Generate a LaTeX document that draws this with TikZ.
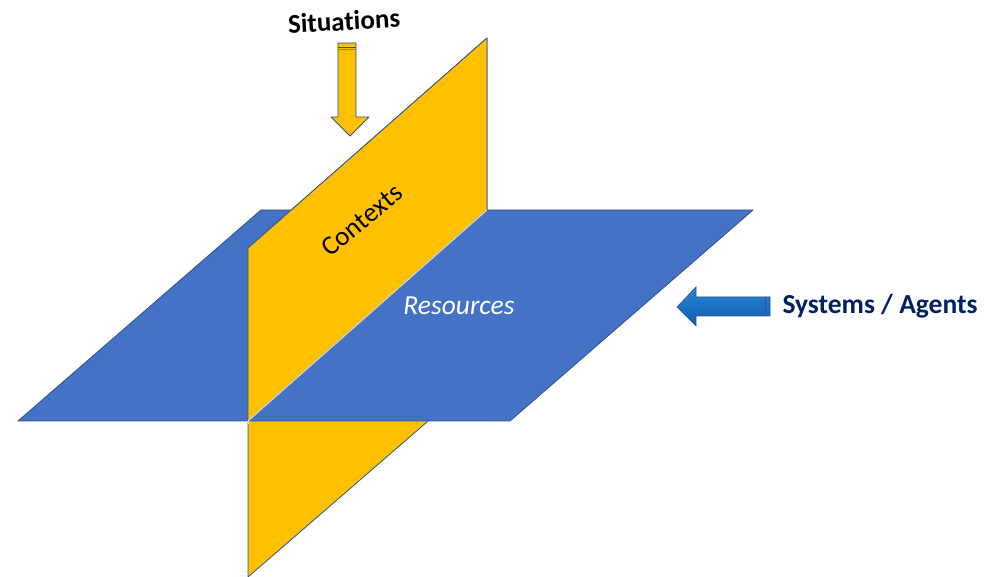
\documentclass[tikz,border=0pt]{standalone}
\usepackage{fontspec}
\setmainfont[Ligatures={NoCommon}]{Carlito}
\definecolor{planeyellow}{HTML}{FFC000}
\definecolor{planeblue}{HTML}{4472C4}
\definecolor{edgeblue}{HTML}{2F528F}
\definecolor{navytext}{HTML}{002060}
\definecolor{arrowtop}{HTML}{2A86D8}
\definecolor{arrowbot}{HTML}{0F5CAA}
\begin{document}
\begin{tikzpicture}[x=1pt,y=-1pt,
  plane/.style={draw=edgeblue, line width=0.8pt, line join=round},
  lbl/.style={inner sep=0pt, anchor=center}]
\useasboundingbox (0,0) rectangle (1002,577);
% full vertical plane (behind)
\path[plane, fill=planeyellow] (248,248) -- (487,38) -- (487,370) -- (248,577) -- cycle;
% horizontal plane
\path[plane, fill=planeblue] (261,210) -- (753,210) -- (510,421) -- (18,421) -- cycle;
% upper part of vertical plane (in front)
\path[plane, fill=planeyellow] (248,248) -- (487,38) -- (487,210) -- (248,421) -- cycle;
% intersection line
\coordinate (i1) at (248,421);
\coordinate (i2) at (487,210);
\draw[white!75!gray, line width=1pt] (i1) -- (i2);
\draw[white!75!gray, line width=0.8pt] (246,421) -- (248,421) -- (248,424);
% labels
\node[lbl, rotate=40, font=\fontsize{27}{31}\selectfont] (ctx) at (362,220) {Contexts};
\node[lbl, white, font=\itshape\fontsize{27.5}{31}\selectfont] (res) at (459,306) {Resources};
\node[lbl, rotate=3, font=\bfseries\fontsize{27}{31}\selectfont] (sit) at (344,21) {Situations};
\node[lbl, navytext, font=\bfseries\fontsize{27.5}{31}\selectfont] (sys) at (880,306) {Systems / Agents};
% down arrow (Situations)
\path[plane, fill=planeyellow] (338,43) -- (356,43) -- (356,117) -- (369,117) -- (350,136) -- (331,117) -- (338,117) -- cycle;
\draw[edgeblue, line width=0.6pt] (338,47) -- (356,47);
\draw[gray, line width=0.6pt] (338,49) -- (356,49);
% left arrow (Systems / Agents)
\shade[top color=arrowtop, bottom color=arrowbot, draw=edgeblue, line width=0.6pt]
  (770,297) -- (770,316) -- (696,316) -- (696,326) -- (677,307) -- (696,287) -- (696,297) -- cycle;
\draw[edgeblue, line width=0.6pt] (765,297) -- (765,316);
\end{tikzpicture}
\end{document}
